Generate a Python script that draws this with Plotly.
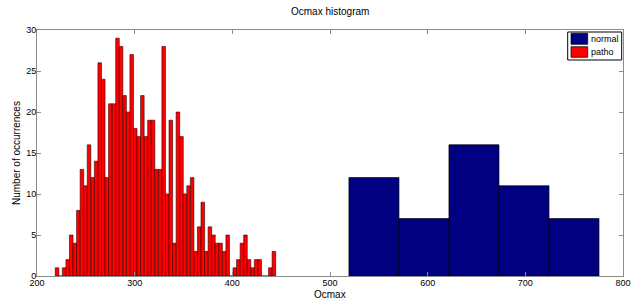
import plotly.graph_objects as go

# Histogram data
patho_bin_start = 218.7
patho_bin_width = 3.64
patho_counts = [1, 0, 1, 2, 5, 4, 8, 13, 11, 16, 12, 14, 26,
                24, 12, 21, 21, 29, 28, 22, 20, 27, 18, 17, 22, 17,
                19, 19, 13, 13, 28, 10, 19, 4, 20, 17, 10, 11, 12, 3,
                6, 9, 3, 6, 5, 4, 4, 3, 5, 0, 1, 2, 4, 5, 2, 1, 2, 2,
                0, 0, 1, 3]

normal_bin_start = 519.4
normal_bin_width = 51.2
normal_counts = [12, 7, 16, 11, 7]

series_names = ["normal", "patho"]
series_colors = ["#000080", "#FF0000"]

x_ticks = [200, 300, 400, 500, 600, 700, 800]
y_ticks = [0, 5, 10, 15, 20, 25, 30]

W, H = 639, 300
ML, MR, MT, MB = 37, 16, 30, 24
PW, PH = W - ML - MR, H - MT - MB


def centers(start, width, n):
    return [start + width * (i + 0.5) for i in range(n)]


def px_x(px):
    return (px - ML) / PW


def px_y(py):
    return (H - MB - py) / PH


FONT = "Liberation Sans, Arial, sans-serif"
BLACK = "#000000"
AXIS = "#8c8c8c"

fig = go.Figure()
fig.add_trace(go.Bar(
    name=series_names[0],
    x=centers(normal_bin_start, normal_bin_width, len(normal_counts)),
    y=normal_counts,
    width=normal_bin_width,
    marker=dict(color=series_colors[0], line=dict(color=BLACK, width=0.7)),
    showlegend=False,
))
fig.add_trace(go.Bar(
    name=series_names[1],
    x=centers(patho_bin_start, patho_bin_width, len(patho_counts)),
    y=patho_counts,
    width=patho_bin_width,
    marker=dict(color=series_colors[1], line=dict(color="#300000", width=0.6)),
    showlegend=False,
))

axis_common = dict(
    showline=True, linecolor=AXIS, linewidth=1, mirror="ticks",
    ticks="inside", ticklen=4, tickcolor=AXIS, showgrid=False,
    zeroline=False, automargin=False,
    tickfont=dict(family=FONT, size=9, color=BLACK),
)

shapes = []
annotations = []

# Legend box (MATLAB style)
shapes.append(dict(type="rect", xref="paper", yref="paper",
                   x0=px_x(567.7), x1=px_x(621.7), y0=px_y(60), y1=px_y(32),
                   line=dict(color=BLACK, width=1), fillcolor="white", layer="above"))
legend_rows = [(33.3, 44.3, 39), (46.7, 57.3, 52)]
for (ytop, ybot, yc), name, col in zip(legend_rows, series_names, series_colors):
    shapes.append(dict(type="rect", xref="paper", yref="paper",
                       x0=px_x(571), x1=px_x(587.7), y0=px_y(ybot), y1=px_y(ytop),
                       line=dict(color=BLACK, width=0.7), fillcolor=col, layer="above"))
    annotations.append(dict(text=name, xref="paper", yref="paper",
                            x=px_x(588.5), y=px_y(yc), xanchor="left", yanchor="middle",
                            showarrow=False, font=dict(family=FONT, size=9, color=BLACK)))

# Axis titles
annotations.append(dict(text="Number of occurrences", xref="paper", yref="paper",
                        x=px_x(16), y=0.5, xanchor="center", yanchor="middle",
                        textangle=-90, showarrow=False,
                        font=dict(family=FONT, size=10, color=BLACK)))
annotations.append(dict(text="Ocmax", xref="paper", yref="paper",
                        x=0.5, y=px_y(301), xanchor="center", yanchor="bottom",
                        showarrow=False, borderpad=0,
                        font=dict(family=FONT, size=10, color=BLACK)))
annotations.append(dict(text="Ocmax histogram", xref="paper", yref="paper",
                        x=0.5, y=px_y(12), xanchor="center", yanchor="middle",
                        showarrow=False,
                        font=dict(family=FONT, size=10, color=BLACK)))

fig.update_layout(
    width=W, height=H,
    margin=dict(l=ML, r=MR, t=MT, b=MB),
    paper_bgcolor="white", plot_bgcolor="white",
    barmode="overlay",
    xaxis=dict(range=[200, 800], tickvals=x_ticks, ticktext=[str(v) for v in x_ticks],
               ticklabelstandoff=-2, **axis_common),
    yaxis=dict(range=[0, 30], tickvals=y_ticks, ticktext=[str(v) for v in y_ticks],
               ticklabelstandoff=-2, **axis_common),
    shapes=shapes,
    annotations=annotations,
    showlegend=False,
)

fig.write_html(
    "out.html",
    config={"displayModeBar": False},
    post_script="document.body.style.margin='0px';document.body.style.overflow='hidden';",
)
